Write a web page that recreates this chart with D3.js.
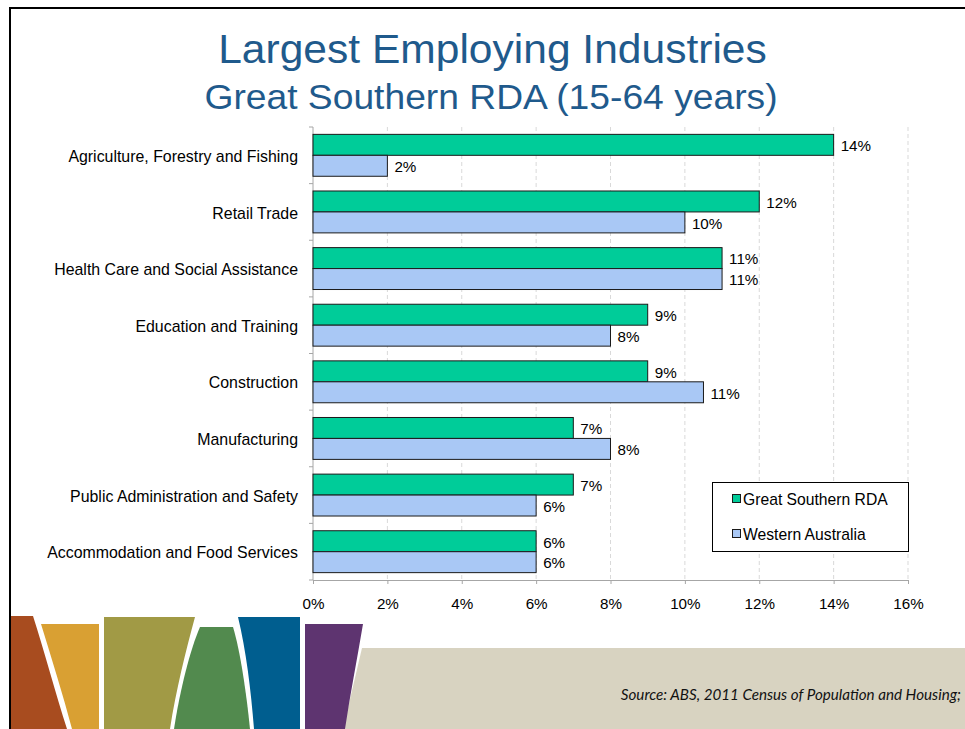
<!DOCTYPE html>
<html>
<head>
<meta charset="utf-8">
<script src="https://cdn.jsdelivr.net/npm/d3@7"></script>
<style>
  html, body { margin: 0; padding: 0; background: #fff; }
  svg { display: block; }
</style>
</head>
<body>
<svg id="chart" width="965" height="729"></svg>
<script>
// Industry categories, top to bottom
const categories = [
  "Agriculture, Forestry and Fishing",
  "Retail Trade",
  "Health Care and Social Assistance",
  "Education and Training",
  "Construction",
  "Manufacturing",
  "Public Administration and Safety",
  "Accommodation and Food Services"
];
const seriesNames = ["Great Southern RDA", "Western Australia"];
// Share of employed persons (per cent)
const greatSouthern = [14, 12, 11, 9, 9, 7, 7, 6];
const westernAustralia = [2, 10, 11, 8, 10.5, 8, 6, 6];
const xTicks = [0, 2, 4, 6, 8, 10, 12, 14, 16];
const seriesColors = ["#00CC99", "#A9C8F5"];

const svg = d3.select("#chart");
const font = "'Liberation Sans', Arial, sans-serif";

// ---- slide decoration (coloured banner along the bottom) ----
const deco = svg.append("g");
const bannerShapes = [
  { fill: "#D8D3C1", d: "M362,648 L965,648 L965,729 L343,729 Z" },
  { fill: "#A84C1F", d: "M11,616 L33,616 C44,650 56,695 67,729 L11,729 Z" },
  { fill: "#D9A033", d: "M41,624 L99,624 L99,729 L72,729 C63,695 52,660 41,624 Z" },
  { fill: "#A19A45", d: "M104,617 L195,617 C186,650 176,690 170,729 L104,729 Z" },
  { fill: "#528A4E", d: "M200,627 L233,627 C240,650 246,690 250,729 L174,729 C180,690 190,650 200,627 Z" },
  { fill: "#005E8F", d: "M238,617 L300,617 L300,729 L254,729 C251,690 246,650 238,617 Z" },
  { fill: "#5E3470", d: "M305,624 L363,624 C357,660 350,695 345,729 L305,729 Z" }
];
deco.selectAll("path").data(bannerShapes).join("path")
  .attr("d", d => d.d).attr("fill", d => d.fill);

// slide frame
svg.append("path").attr("d", "M10,729 L10,8 L965,8")
  .attr("fill", "none").attr("stroke", "#000").attr("stroke-width", 2);

// ---- titles (slightly widened lettering) ----
function titleLine(txt, cx, baseline, size) {
  svg.append("text")
    .attr("transform", `translate(${cx},${baseline}) scale(1.064,1)`)
    .attr("text-anchor", "middle")
    .attr("font-family", font).attr("font-size", size).attr("fill", "#1F5A8C")
    .text(txt);
}
titleLine("Largest Employing Industries", 492.5, 62.5, 40);
titleLine("Great Southern RDA (15-64 years)", 491, 108.5, 35);

// ---- chart ----
const plot = { left: 313, right: 908, top: 127, bottom: 580 };
const x = d3.scaleLinear().domain([0, 16]).range([plot.left, plot.right]);
const y0 = d3.scaleBand().domain(categories).range([plot.top, plot.bottom])
  .paddingInner(0.26).paddingOuter(0.13);
const y1 = d3.scaleBand().domain(seriesNames).range([0, y0.bandwidth()]);

const rows = categories.map((c, i) => ({
  category: c,
  values: [
    { series: seriesNames[0], value: greatSouthern[i] },
    { series: seriesNames[1], value: westernAustralia[i] }
  ]
}));

// dashed vertical gridlines
svg.append("g").selectAll("line").data(xTicks.slice(1)).join("line")
  .attr("x1", d => x(d)).attr("x2", d => x(d))
  .attr("y1", plot.top).attr("y2", plot.bottom)
  .attr("stroke", "#D9D9D9").attr("stroke-dasharray", "4,3");

// category axis
const yAxisG = svg.append("g").attr("transform", `translate(${plot.left},0)`);
yAxisG.append("line").attr("x1", 0).attr("x2", 0).attr("y1", plot.top).attr("y2", plot.bottom)
  .attr("stroke", "#A6A6A6");
const boundaries = categories.map(c => y0(c) - y0.step() * y0.paddingInner() / 2)
  .concat([plot.bottom]);
yAxisG.selectAll("line.tick").data(boundaries).join("line").attr("class", "tick")
  .attr("x1", -4).attr("x2", 0).attr("y1", d => d).attr("y2", d => d)
  .attr("stroke", "#A6A6A6");
yAxisG.selectAll("text").data(categories).join("text")
  .attr("x", -15).attr("y", d => y0(d) + y0.bandwidth() / 2 + 1).attr("dy", "0.35em")
  .attr("text-anchor", "end").attr("font-family", font).attr("font-size", 15.9)
  .attr("fill", "#000").text(d => d);

// value axis
const xAxis = d3.axisBottom(x).tickValues(xTicks).tickSize(4).tickPadding(14)
  .tickFormat(d => d + "%");
const xAxisG = svg.append("g").attr("transform", `translate(0,${plot.bottom})`).call(xAxis);
xAxisG.select(".domain").attr("stroke", "#A6A6A6");
xAxisG.selectAll(".tick line").attr("stroke", "#A6A6A6");
xAxisG.selectAll(".tick text").attr("font-family", font).attr("font-size", 15.2).attr("fill", "#000");

// bars
const groups = svg.append("g").selectAll("g").data(rows).join("g")
  .attr("transform", d => `translate(0,${y0(d.category)})`);
groups.selectAll("rect").data(d => d.values).join("rect")
  .attr("x", x(0)).attr("y", d => y1(d.series))
  .attr("width", d => x(d.value) - x(0)).attr("height", y1.bandwidth())
  .attr("fill", (d, i) => seriesColors[i])
  .attr("stroke", "#1A1A1A").attr("stroke-width", 1);
groups.selectAll("text").data(d => d.values).join("text")
  .attr("x", d => x(d.value) + 7).attr("y", d => y1(d.series) + y1.bandwidth() / 2 + 1)
  .attr("dy", "0.35em").attr("font-family", font).attr("font-size", 15.2).attr("fill", "#000")
  .text(d => Math.round(d.value) + "%");

// legend
const legend = svg.append("g").attr("transform", "translate(712,482)");
legend.append("rect").attr("x", 0.5).attr("y", 0.5).attr("width", 196).attr("height", 69)
  .attr("fill", "#fff").attr("stroke", "#000");
const items = legend.selectAll("g").data(seriesNames).join("g")
  .attr("transform", (d, i) => `translate(20,${17 + i * 35})`);
items.append("rect").attr("x", 0.5).attr("y", -4.5).attr("width", 8).attr("height", 8)
  .attr("fill", (d, i) => seriesColors[i]).attr("stroke", "#1A1A1A");
items.append("text").attr("x", 11).attr("y", 0).attr("dy", "0.35em")
  .attr("font-family", font).attr("font-size", 15.7).attr("fill", "#000").text(d => d);

// source note
svg.append("text").attr("x", 961).attr("y", 700).attr("text-anchor", "end")
  .attr("font-family", "Lato, 'Open Sans', sans-serif").attr("font-style", "italic")
  .attr("font-size", 15.2).attr("fill", "#111")
  .text("Source: ABS, 2011 Census of Population and Housing;");
</script>
</body>
</html>
